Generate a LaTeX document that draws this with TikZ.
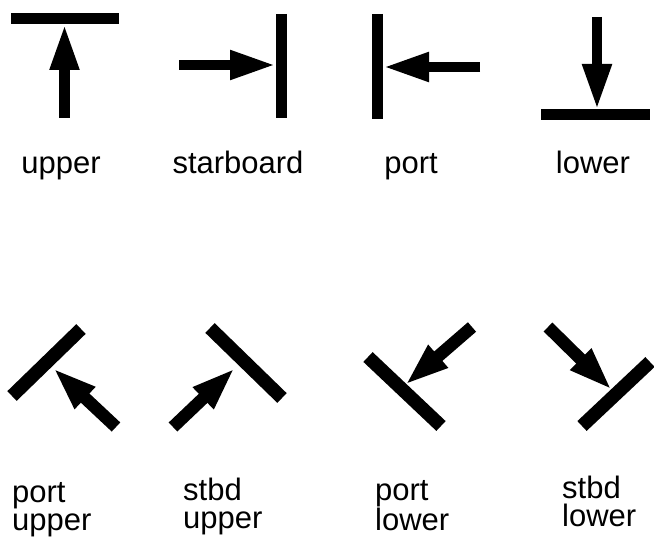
\documentclass[tikz,border=0pt]{standalone}
\usepackage{fontspec}
\setmainfont{Liberation Sans}
\usetikzlibrary{arrows.meta}

\begin{document}
\begin{tikzpicture}[x=1pt,y=-1pt,
  bar/.style={line width=11pt},
  fatarrow/.style={line width=10.5pt, -{Triangle[length=46pt,width=27pt]}},
  diagbar/.style={line width=13.5pt},
  diagarrow/.style={line width=12.5pt, -{Triangle[length=44pt,width=27pt]}},
  lbl/.style={inner sep=0pt, font=\fontsize{31}{28}\selectfont},
  lbltwo/.style={lbl, anchor=base west, align=left}]
\useasboundingbox (0,0) rectangle (654,543);

% ---- top row: the four plain directions ----
% upper
\coordinate (ubarL) at (11,19);   \coordinate (ubarR) at (119,19);
\coordinate (utail) at (64.5,118); \coordinate (utip) at (64.5,24);
\draw[bar] (ubarL) -- (ubarR);
\draw[fatarrow] (utail) -- (utip);
\node[lbl, anchor=base] (ulbl) at (61,173) {upper};

% starboard
\coordinate (sbarT) at (281.5,14); \coordinate (sbarB) at (281.5,118);
\coordinate (stail) at (179,65);   \coordinate (stip) at (276,65);
\draw[bar] (sbarT) -- (sbarB);
\draw[fatarrow] (stail) -- (stip);
\node[lbl, anchor=base] (slbl) at (238,173) {starboard};

% port
\coordinate (pbarT) at (377.5,14); \coordinate (pbarB) at (377.5,119);
\coordinate (ptail) at (480,67);   \coordinate (ptip) at (383,67);
\draw[bar] (pbarT) -- (pbarB);
\draw[fatarrow] (ptail) -- (ptip);
\node[lbl, anchor=base] (plbl) at (411,173) {port};

% lower
\coordinate (lbarL) at (541,115); \coordinate (lbarR) at (650,115);
\coordinate (ltail) at (597,17);  \coordinate (ltip) at (597,110);
\draw[bar] (lbarL) -- (lbarR);
\draw[fatarrow] (ltail) -- (ltip);
\node[lbl, anchor=base] (llbl) at (593,173) {lower};

% ---- bottom row: the four diagonal directions ----
% port upper
\coordinate (pubarA) at (12,396);   \coordinate (pubarB) at (81,329);
\coordinate (putail) at (116,427);  \coordinate (putip) at (53,368);
\draw[diagbar] (pubarA) -- (pubarB);
\draw[diagarrow] (putail) -- (putip);
\node[lbltwo] (pulbl) at (12,530) {port\\upper};

% stbd upper
\coordinate (subarA) at (210,328);  \coordinate (subarB) at (282,398);
\coordinate (sutail) at (173,427);  \coordinate (sutip) at (235,368);
\draw[diagbar] (subarA) -- (subarB);
\draw[diagarrow] (sutail) -- (sutip);
\node[lbltwo] (sulbl) at (183,528) {stbd\\upper};

% port lower
\coordinate (plbarA) at (368,357);  \coordinate (plbarB) at (441,426);
\coordinate (pltail) at (472,327);  \coordinate (pltip) at (405,385);
\draw[diagbar] (plbarA) -- (plbarB);
\draw[diagarrow] (pltail) -- (pltip);
\node[lbltwo] (pllbl) at (375,530) {port\\lower};

% stbd lower
\coordinate (slbarA) at (582,426);  \coordinate (slbarB) at (650,362);
\coordinate (sltail) at (548,327);  \coordinate (sltip) at (612,390);
\draw[diagbar] (slbarA) -- (slbarB);
\draw[diagarrow] (sltail) -- (sltip);
\node[lbltwo] (sllbl) at (562,526) {stbd\\lower};
\end{tikzpicture}
\end{document}
